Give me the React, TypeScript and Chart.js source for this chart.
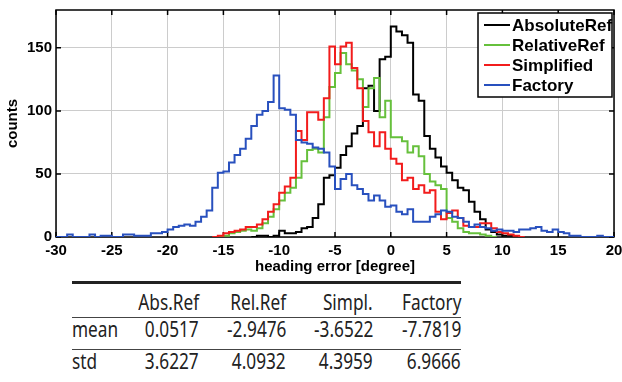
import React, { useEffect, useRef } from 'react';
import { Chart, registerables } from 'chart.js';

Chart.register(...registerables);

// ---------- data ----------
const binWidth = 0.5;
const xMin = -30;
const xMax = 20;
const xStep = 5;
const yMin = 0;
const yMax = 180;
const yTickValues = [0, 50, 100, 150];

const seriesLabels = ['AbsoluteRef', 'RelativeRef', 'Simplified', 'Factory'];
const seriesColors = ['#000000', '#66c03c', '#f21c1c', '#2850be'];

// counts per 0.5-degree bin, first bin starts at the given left edge
const absoluteRefStart = -12.5;
const absoluteRefCounts = [
  0, 1, 1, 0, 1, 5, 3, 3, 4, 7, 8, 15, 26, 47, 49, 55, 65, 72, 82, 88,
  118, 120, 100, 141, 143, 167, 163, 160, 154, 113, 108, 80, 70, 63, 56, 51, 45, 39, 37, 28,
  20, 14, 6, 4, 2, 1, 1, 0,
];

const relativeRefStart = -15.5;
const relativeRefCounts = [
  0, 1, 3, 4, 5, 6, 5, 7, 11, 16, 22, 29, 35, 39, 47, 60, 69, 70, 67, 95,
  119, 130, 146, 137, 132, 125, 103, 118, 126, 95, 108, 79, 79, 76, 67, 72, 64, 50, 44, 41,
  38, 15, 12, 7, 4, 3, 3, 2, 1, 0,
];

const simplifiedStart = -16;
const simplifiedCounts = [
  0, 1, 3, 4, 5, 6, 8, 8, 10, 14, 20, 26, 35, 40, 47, 84, 77, 99, 99, 93,
  110, 151, 137, 151, 154, 134, 118, 92, 83, 72, 83, 70, 62, 58, 45, 47, 38, 41, 35, 37,
  20, 14, 19, 21, 15, 9, 8, 8, 11, 11, 7, 4, 3, 2, 1, 0,
];

const factoryStart = -30;
const factoryCounts = [
  0, 0, 2, 0, 0, 0, 2, 0, 1, 1, 0, 0, 2, 2, 1, 1, 1, 3, 3, 4,
  6, 8, 9, 10, 9, 12, 16, 21, 39, 51, 52, 59, 65, 70, 78, 88, 97, 100, 107, 128,
  102, 101, 97, 77, 75, 74, 71, 70, 67, 56, 38, 46, 50, 41, 38, 34, 29, 33, 29, 24,
  25, 20, 18, 22, 12, 12, 12, 16, 18, 21, 20, 16, 15, 12, 8, 10, 8, 7, 5, 6,
  5, 5, 4, 6, 6, 7, 8, 5, 4, 6, 4, 3, 1, 1, 0, 0, 0, 1, 0, 0,
];

const xTitle = 'heading error [degree]';
const yTitle = 'counts';

const tableHeaders = ['Abs.Ref', 'Rel.Ref', 'Simpl.', 'Factory'];
const tableRowLabels = ['mean', 'std'];
const meanValues = ['0.0517', '-2.9476', '-3.6522', '-7.7819'];
const stdValues = ['3.6227', '4.0932', '4.3959', '6.9666'];

// ---------- helpers ----------
function toSteps(start: number, counts: number[]) {
  const pts = counts.map((c, i) => ({ x: start + i * binWidth, y: c }));
  pts.push({ x: start + counts.length * binWidth, y: counts[counts.length - 1] });
  return pts;
}

const AXIS_FONT = '"Liberation Sans", Arial, sans-serif';

const framePlugin = {
  id: 'matlabFrame',
  beforeDatasetsDraw(chart: any) {
    const { ctx, chartArea: a, scales } = chart;
    ctx.save();
    ctx.strokeStyle = '#000';
    ctx.lineWidth = 1.5;
    ctx.strokeRect(a.left, a.top, a.right - a.left, a.bottom - a.top);
    const len = 5;
    ctx.beginPath();
    scales.x.ticks.forEach((t: any) => {
      const px = scales.x.getPixelForValue(t.value);
      ctx.moveTo(px, a.bottom);
      ctx.lineTo(px, a.bottom - len);
      ctx.moveTo(px, a.top);
      ctx.lineTo(px, a.top + len);
    });
    scales.y.ticks.forEach((t: any) => {
      const py = scales.y.getPixelForValue(t.value);
      ctx.moveTo(a.left, py);
      ctx.lineTo(a.left + len, py);
      ctx.moveTo(a.right, py);
      ctx.lineTo(a.right - len, py);
    });
    ctx.stroke();
    ctx.restore();
  },
  afterDatasetsDraw(chart: any) {
    const { ctx, chartArea: a } = chart;
    const w = 134;
    const h = 84;
    const left = a.right - w - 2;
    const top = a.top + 3;
    ctx.save();
    ctx.fillStyle = '#fff';
    ctx.fillRect(left, top, w, h);
    ctx.strokeStyle = '#000';
    ctx.lineWidth = 1.5;
    ctx.strokeRect(left, top, w, h);
    ctx.font = `bold 17px ${AXIS_FONT}`;
    ctx.textBaseline = 'middle';
    ctx.textAlign = 'left';
    chart.data.datasets.forEach((ds: any, i: number) => {
      const cy = top + 12 + i * 20;
      ctx.strokeStyle = ds.borderColor;
      ctx.lineWidth = 2;
      ctx.beginPath();
      ctx.moveTo(left + 6, cy);
      ctx.lineTo(left + 32, cy);
      ctx.stroke();
      ctx.fillStyle = '#000';
      ctx.fillText(ds.label, left + 34, cy + 1);
    });
    ctx.restore();
  },
};

export default function App() {
  const canvasRef = useRef<HTMLCanvasElement | null>(null);

  useEffect(() => {
    if (!canvasRef.current) return;
    const starts = [absoluteRefStart, relativeRefStart, simplifiedStart, factoryStart];
    const counts = [absoluteRefCounts, relativeRefCounts, simplifiedCounts, factoryCounts];
    const chart = new Chart(canvasRef.current, {
      type: 'line',
      data: {
        datasets: seriesLabels.map((label, i) => ({
          label,
          data: toSteps(starts[i], counts[i]),
          borderColor: seriesColors[i],
          backgroundColor: seriesColors[i],
          borderWidth: 2,
          pointRadius: 0,
          stepped: true,
          fill: false,
          order: seriesLabels.length - i,
        })),
      },
      options: {
        animation: false,
        responsive: false,
        layout: { padding: { top: 10, right: 8, left: 0, bottom: 0 } },
        plugins: { legend: { display: false }, tooltip: { enabled: false } },
        scales: {
          x: {
            type: 'linear',
            min: xMin,
            max: xMax,
            ticks: {
              stepSize: xStep,
              maxRotation: 0,
              autoSkip: false,
              padding: 5,
              color: '#000',
              font: { family: AXIS_FONT, weight: 'bold', size: 15 },
            },
            grid: { color: '#cccccc', lineWidth: 1, drawTicks: false },
            border: { display: false },
            title: {
              display: true,
              text: xTitle,
              color: '#000',
              font: { family: AXIS_FONT, weight: 'bold', size: 15 },
              padding: { top: 0, bottom: 4 },
            },
            afterFit: (s: any) => {
              s.height = 43;
              s.paddingLeft = 0;
              s.paddingRight = 0;
            },
          },
          y: {
            type: 'linear',
            min: yMin,
            max: yMax,
            afterBuildTicks: (s: any) => {
              s.ticks = yTickValues.map((v) => ({ value: v }));
            },
            ticks: {
              padding: 4,
              color: '#000',
              font: { family: AXIS_FONT, weight: 'bold', size: 15 },
            },
            grid: { color: '#cccccc', lineWidth: 1, drawTicks: false },
            border: { display: false },
            title: {
              display: true,
              text: yTitle,
              color: '#000',
              font: { family: AXIS_FONT, weight: 'bold', size: 15 },
              padding: { top: 4, bottom: 0 },
            },
            afterFit: (s: any) => {
              s.width = 56;
              s.paddingTop = 0;
              s.paddingBottom = 0;
            },
          },
        },
      } as any,
      plugins: [framePlugin],
    });
    return () => chart.destroy();
  }, []);

  const tableFont = '"Noto Sans", "Open Sans", sans-serif';
  const colRight = [199, 286, 373, 461];
  const rowTops = [319, 351];
  const textStyle: React.CSSProperties = {
    position: 'absolute',
    fontFamily: tableFont,
    fontSize: 21,
    lineHeight: '21px',
    color: '#222',
    whiteSpace: 'nowrap',
    transform: 'scaleX(0.82)',
  };
  const rows = [meanValues, stdValues];

  return (
    <div style={{ position: 'absolute', left: 0, top: 0, width: 622, height: 382, background: '#fff', overflow: 'hidden' }}>
      <canvas ref={canvasRef} width={622} height={280} style={{ position: 'absolute', left: 0, top: 0, width: 622, height: 280 }} />
      <div style={{ position: 'absolute', left: 72, top: 281, width: 389, height: 3, background: '#222' }} />
      <div style={{ position: 'absolute', left: 72, top: 317, width: 389, height: 1, background: '#444' }} />
      <div style={{ position: 'absolute', left: 72, top: 349, width: 389, height: 1, background: '#444' }} />
      {tableHeaders.map((h, i) => (
        <div key={'h' + i} style={{ ...textStyle, top: 292, right: 622 - colRight[i], textAlign: 'right', transformOrigin: 'right center' }}>{h}</div>
      ))}
      {tableRowLabels.map((lab, r) => (
        <div key={'l' + r} style={{ ...textStyle, top: rowTops[r], left: 72, transformOrigin: 'left center' }}>{lab}</div>
      ))}
      {rows.map((vals, r) =>
        vals.map((v, i) => (
          <div key={'v' + r + i} style={{ ...textStyle, top: rowTops[r], right: 622 - colRight[i], textAlign: 'right', transformOrigin: 'right center' }}>{v}</div>
        ))
      )}
    </div>
  );
}
